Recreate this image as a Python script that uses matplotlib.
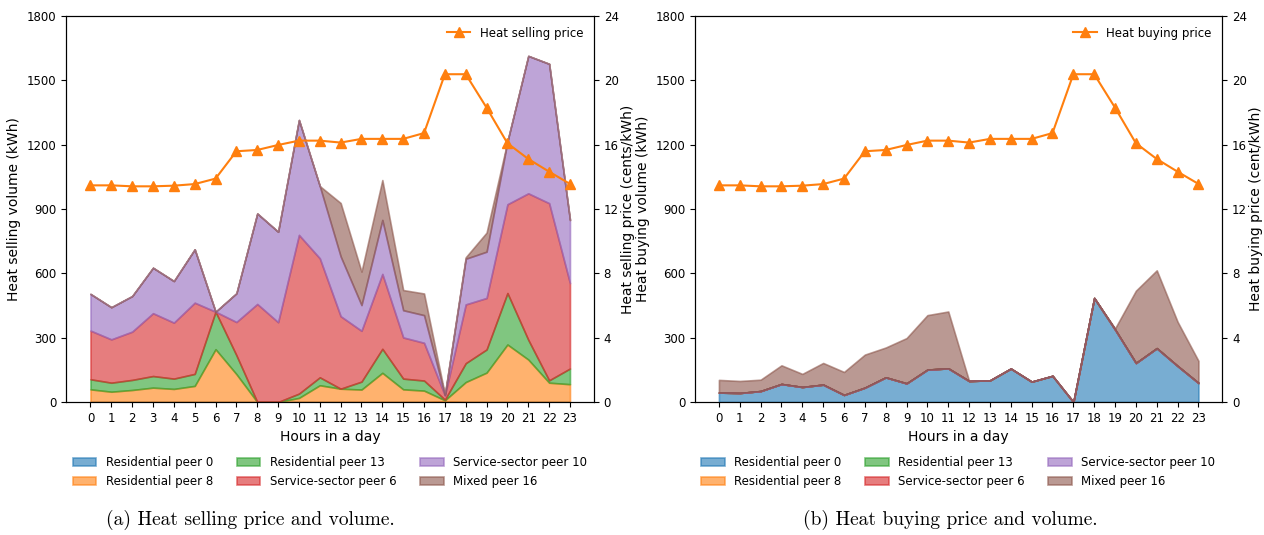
import numpy as np
import matplotlib
matplotlib.use("Agg")
import matplotlib.pyplot as plt

plt.rcParams["font.size"] = 8.5
plt.rcParams["axes.labelsize"] = 10

hours = list(range(24))
peer_labels = ["Residential peer 0", "Residential peer 8", "Residential peer 13",
               "Service-sector peer 6", "Service-sector peer 10", "Mixed peer 16"]
peer_colors = ["tab:blue", "tab:orange", "tab:green", "tab:red", "tab:purple", "tab:brown"]

# heat sold per peer (kWh)
sell_res0 = [0, 0, 0, 0, 0, 0, 0, 0, 0, 0, 0, 0, 0, 0, 0, 0, 0, 3, 0, 0, 0, 0, 0, 0]
sell_res8 = [59, 48, 56, 67, 61, 75, 246, 130, 0, 0, 19, 78, 62, 58, 136, 59, 53, 5, 93, 137, 268, 198, 90, 83]
sell_res13 = [47, 42, 47, 54, 48, 56, 175, 88, 0, 0, 20, 37, 0, 37, 112, 50, 47, 3, 88, 108, 240, 92, 11, 73]
sell_srv6 = [227, 202, 225, 293, 261, 332, 0, 155, 457, 372, 740, 555, 338, 237, 349, 192, 176, 20, 274, 240, 414, 683, 826, 398]
sell_srv10 = [171, 150, 166, 212, 194, 249, 0, 134, 422, 422, 536, 337, 279, 120, 252, 127, 129, 2, 213, 216, 293, 641, 650, 295]
sell_mix16 = [0, 0, 0, 0, 0, 0, 0, 0, 0, 0, 0, 0, 249, 156, 186, 94, 101, 2, 7, 89, 0, 0, 0, 0]

# heat bought per peer (kWh)
buy_res0 = [44, 42, 51, 84, 70, 81, 33, 67, 115, 87, 151, 157, 98, 101, 156, 95, 122, 0, 485, 338, 182, 251, 168, 89]
buy_res8 = [0] * 24
buy_res13 = [0] * 24
buy_srv6 = [0] * 24
buy_srv10 = [0] * 24
buy_mix16 = [59, 56, 53, 87, 61, 101, 107, 154, 139, 211, 254, 265, 0, 0, 0, 0, 0, 0, 0, 5, 337, 363, 206, 103]

# prices (cents/kWh)
sell_price = [13.47, 13.47, 13.41, 13.41, 13.45, 13.55, 13.89, 15.59, 15.67, 15.98, 16.25, 16.25,
              16.13, 16.36, 16.36, 16.36, 16.72, 20.38, 20.38, 18.30, 16.09, 15.11, 14.32, 13.56]
buy_price = [13.47, 13.47, 13.41, 13.41, 13.45, 13.55, 13.89, 15.59, 15.67, 15.98, 16.25, 16.25,
             16.13, 16.36, 16.36, 16.36, 16.72, 20.38, 20.38, 18.30, 16.09, 15.11, 14.32, 13.56]


def panel(fig, rect, volumes, price, vol_label, price_label, price_name):
    ax = fig.add_axes(rect)
    polys = ax.stackplot(hours, volumes, labels=peer_labels, colors=peer_colors, alpha=0.6)
    for p, c in zip(polys, peer_colors):
        p.set_edgecolor(c)
        p.set_linewidth(1.2)
    ax.set_ylim(0, 1800)
    ax.set_yticks(np.arange(0, 1801, 300))
    ax.set_xticks(hours)
    ax.set_xlabel("Hours in a day")
    ax.set_ylabel(vol_label)

    ax2 = ax.twinx()
    ax2.plot(hours, price, color="tab:orange", marker="^", markersize=6.5, linewidth=1.5, label=price_name)
    ax2.set_ylim(0, 24)
    ax2.set_yticks(np.arange(0, 25, 4))
    ax2.set_ylabel(price_label, labelpad=1.5)
    ax2.legend(loc="upper right", frameon=False)
    return polys


fig = plt.figure(figsize=(12.64, 5.35), dpi=100)

polys = panel(fig, [0.0526, 0.2486, 0.4173, 0.7215],
              [sell_res0, sell_res8, sell_res13, sell_srv6, sell_srv10, sell_mix16],
              sell_price, "Heat selling volume (kWh)", "Heat selling price (cents/kWh)", "Heat selling price")
fig.legend(polys, peer_labels, loc="center", bbox_to_anchor=(0.261, 0.118), ncol=3, frameon=False)

polys = panel(fig, [0.5498, 0.2486, 0.4173, 0.7215],
              [buy_res0, buy_res8, buy_res13, buy_srv6, buy_srv10, buy_mix16],
              buy_price, "Heat buying volume (kWh)", "Heat buying price (cent/kWh)", "Heat buying price")
fig.legend(polys, peer_labels, loc="center", bbox_to_anchor=(0.758, 0.118), ncol=3, frameon=False)

fig.text(0.198, 0.028, "(a) Heat selling price and volume.", family="cmr10", fontsize=14, ha="center", va="center")
fig.text(0.7516, 0.028, "(b) Heat buying price and volume.", family="cmr10", fontsize=14, ha="center", va="center")

fig.savefig("out.png", dpi=100)
